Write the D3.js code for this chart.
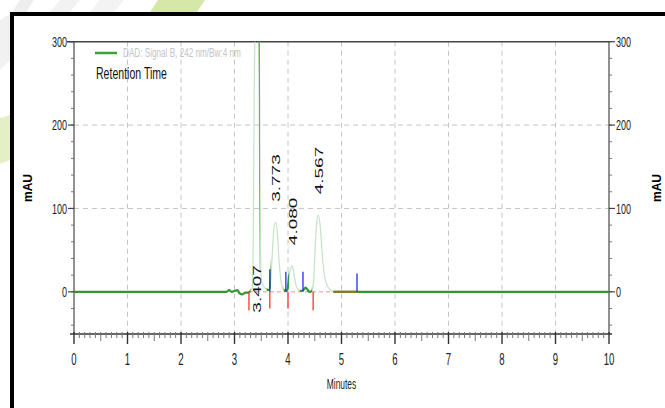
<!DOCTYPE html>
<html>
<head>
<meta charset="utf-8">
<script src="https://cdn.jsdelivr.net/npm/d3@7"></script>
<style>
  body { margin: 0; background: #fff; }
  svg { display: block; font-family: "Liberation Sans", Arial, sans-serif; }
</style>
</head>
<body>
<svg id="chart" width="665" height="408"></svg>
<script>
// chromatogram trace (minutes, mAU)
var traceTime = [0, 2.85, 2.9, 2.95, 3.0, 3.05, 3.1, 3.15, 3.2, 3.25, 3.3, 3.33, 3.35, 3.37, 3.39, 3.407, 3.42, 3.45, 3.47, 3.48, 3.49, 3.51, 3.55, 3.6, 3.65,
  3.68, 3.71, 3.74, 3.773, 3.8, 3.83, 3.87, 3.91, 3.95, 3.99, 4.02, 4.05, 4.08, 4.11, 4.15, 4.2, 4.25, 4.3, 4.33, 4.37, 4.41, 4.45,
  4.48, 4.51, 4.54, 4.567, 4.6, 4.64, 4.68, 4.73, 4.8, 4.85, 4.9, 10];
var traceValue = [0, 0, 2, 0, 1, 2, -2, -3, -1, -1, 1, 5, 60, 250, 330, 360, 350, 330, 250, 120, 30, 12, 6, 3, 2,
  15, 50, 78, 83, 72, 40, 12, 3, 1, 3, 18, 28, 31, 22, 8, 2, 1, 3, 5, 2, 0, 1,
  14, 55, 85, 92, 80, 45, 20, 8, 2, 0, 0, 0];

var peakTimes = [3.407, 3.773, 4.080, 4.567];
var peakHeights = [360, 83, 31, 92];
var peakLabels = ["3.407", "3.773", "4.080", "4.567"];

// integration marks
var startMarks = [3.27, 3.66, 4.0, 4.47];     // red, below baseline
var startDepth = [-22, -20, -20, -22];
var endMarks = [3.66, 3.96, 4.28, 5.29];      // blue, above baseline
var endHeight = [27, 24, 24, 22];

// parts of the trace drawn as solid baseline
var solidRanges = [[0, 3.3], [3.45, 3.47], [3.6, 3.68], [3.92, 4.02], [4.22, 4.45], [4.85, 10]];
var baselineRange = [3.27, 4.85];
var skimRange = [4.85, 5.29];

var xTicks = [0, 1, 2, 3, 4, 5, 6, 7, 8, 9, 10];
var yTicks = [0, 100, 200, 300];
var legendText = "DAD: Signal B, 242 nm/Bw:4 nm";

var svg = d3.select("#chart");
var pL = 74, pR = 609, pT = 41.7, pB = 333.5;
var x = d3.scaleLinear().domain([0, 10]).range([pL, pR]);
var y = d3.scaleLinear().domain([-50, 300]).range([pB, pT]);

// background decoration
var deco = svg.append("g");
deco.append("polygon").attr("points", "158,0 205,0 197,12 150,12").attr("fill", "#d6e8a8");
deco.append("polygon").attr("points", "0,118 10,115 10,160 0,164").attr("fill", "#e4efc6");
deco.append("polygon").attr("points", "20,0 34,0 26,12 12,12").attr("fill", "#eeeeee");
deco.append("polygon").attr("points", "60,0 80,0 70,12 50,12").attr("fill", "#f2f2f2");
deco.append("polygon").attr("points", "100,0 124,0 114,12 90,12").attr("fill", "#f3f3f3");
deco.append("polygon").attr("points", "0,20 10,14 10,60 0,70").attr("fill", "#f1f1f1");

// frame
svg.append("rect").attr("x", 12).attr("y", 14).attr("width", 700).attr("height", 500)
  .attr("fill", "#fff").attr("stroke", "#000").attr("stroke-width", 4);

svg.append("clipPath").attr("id", "plot").append("rect")
  .attr("x", pL).attr("y", pT).attr("width", pR - pL).attr("height", pB - pT);

// grid
var grid = svg.append("g").attr("stroke", "#c4c4c4").attr("stroke-dasharray", "5,4");
grid.selectAll(".vg").data(xTicks.slice(1, -1)).join("line")
  .attr("x1", d => x(d)).attr("x2", d => x(d)).attr("y1", pT).attr("y2", pB);
grid.selectAll(".hg").data([100, 200]).join("line")
  .attr("x1", pL).attr("x2", pR).attr("y1", d => y(d)).attr("y2", d => y(d));

// y axes
var minorY = d3.range(-40, 301, 20);
function yAxis(pos, dir) {
  var g = svg.append("g").attr("transform", "translate(" + pos + ",0)");
  g.append("line").attr("y1", pT).attr("y2", pB).attr("stroke", "#555").attr("stroke-width", 1.3);
  g.selectAll(".mi").data(minorY).join("line")
    .attr("x1", 0).attr("x2", dir * 3).attr("y1", d => y(d)).attr("y2", d => y(d))
    .attr("stroke", "#777");
  g.selectAll(".ma").data(yTicks).join("line")
    .attr("x1", 0).attr("x2", dir * 6).attr("y1", d => y(d)).attr("y2", d => y(d))
    .attr("stroke", "#444").attr("stroke-width", 1.2);
  g.selectAll("text").data(yTicks).join("text")
    .attr("transform", d => "translate(" + (dir * 7) + "," + y(d) + ") scale(0.6,1)")
    .attr("dy", "0.36em").attr("text-anchor", dir < 0 ? "end" : "start")
    .attr("font-size", 15).attr("fill", "#222").text(d => d);
}
yAxis(pL, -1);
yAxis(pR, 1);

// top line
svg.append("line").attr("x1", 67).attr("x2", pR).attr("y1", pT).attr("y2", pT)
  .attr("stroke", "#444").attr("stroke-width", 1.5);

// x axis
var xg = svg.append("g");
xg.append("line").attr("x1", 70).attr("x2", 612).attr("y1", 334).attr("y2", 334)
  .attr("stroke", "#666").attr("stroke-width", 2);
var minorX = d3.range(0, 101).map(d => d / 10);
xg.selectAll(".mx").data(minorX).join("line")
  .attr("x1", d => x(d)).attr("x2", d => x(d))
  .attr("y1", 332)
  .attr("y2", (d, i) => i % 10 === 0 ? 344 : (i % 5 === 0 ? 341 : 338))
  .attr("stroke", (d, i) => i % 10 === 0 ? "#333" : "#777")
  .attr("stroke-width", (d, i) => i % 10 === 0 ? 1.4 : 1);
xg.selectAll("text").data(xTicks).join("text")
  .attr("transform", d => "translate(" + x(d) + ",365) scale(0.6,1)")
  .attr("text-anchor", "middle").attr("font-size", 16).attr("fill", "#222").text(d => d);
svg.append("text").attr("transform", "translate(" + x(5) + ",389) scale(0.6,1)")
  .attr("text-anchor", "middle").attr("font-size", 14).attr("fill", "#222").text("Minutes");

svg.append("text").attr("transform", "translate(32,188) rotate(-90)")
  .attr("text-anchor", "middle").attr("font-size", 12).attr("font-weight", "bold").text("mAU");
svg.append("text").attr("transform", "translate(661,188) rotate(-90)")
  .attr("text-anchor", "middle").attr("font-size", 12).attr("font-weight", "bold").text("mAU");

// trace
var pts = traceTime.map((t, i) => [t, traceValue[i]]);
var line = d3.line().x(d => x(d[0])).y(d => y(d[1])).curve(d3.curveMonotoneX);
var plot = svg.append("g").attr("clip-path", "url(#plot)");

plot.append("line").attr("x1", x(baselineRange[0])).attr("x2", x(baselineRange[1]))
  .attr("y1", y(0)).attr("y2", y(0)).attr("stroke", "#f6b4b4").attr("stroke-width", 1.5)
  .attr("stroke-dasharray", "4,3");

plot.append("path").attr("d", line(pts)).attr("fill", "none")
  .attr("stroke", "#c6e2c6").attr("stroke-width", 1.2);

var solidClip = svg.append("clipPath").attr("id", "solid");
solidClip.selectAll("rect").data(solidRanges).join("rect")
  .attr("x", d => x(d[0])).attr("width", d => x(d[1]) - x(d[0]))
  .attr("y", pT).attr("height", pB - pT);
plot.append("g").attr("clip-path", "url(#solid)").append("path").attr("d", line(pts))
  .attr("fill", "none").attr("stroke", "#2f992f").attr("stroke-width", 2.2);

plot.append("line").attr("x1", x(skimRange[0])).attr("x2", x(skimRange[1]))
  .attr("y1", y(0)).attr("y2", y(0)).attr("stroke", "#8c7a1e").attr("stroke-width", 2.2);

plot.selectAll(".em").data(endMarks).join("line")
  .attr("x1", d => x(d)).attr("x2", d => x(d))
  .attr("y1", y(0)).attr("y2", (d, i) => y(endHeight[i]))
  .attr("stroke", "#1f2cff").attr("stroke-width", 1.3);
plot.selectAll(".sm").data(startMarks).join("line")
  .attr("x1", d => x(d)).attr("x2", d => x(d))
  .attr("y1", y(0)).attr("y2", (d, i) => y(startDepth[i]))
  .attr("stroke", "#ff3333").attr("stroke-width", 1.3);

// peak labels
svg.selectAll(".pl").data(peakTimes).join("text")
  .attr("transform", (d, i) => {
    var v = peakHeights[i] > 300 ? -25 : peakHeights[i] + 25;
    return "translate(" + x(d) + "," + y(v) + ") rotate(-90) scale(1,0.62)";
  })
  .attr("dy", "0.36em").attr("font-size", 19).attr("fill", "#111")
  .text((d, i) => peakLabels[i]);

// legend
svg.append("line").attr("x1", 95).attr("x2", 117).attr("y1", 53).attr("y2", 53)
  .attr("stroke", "#3aa43a").attr("stroke-width", 2.5);
svg.append("text").attr("transform", "translate(123,57) scale(0.68,1)")
  .attr("font-size", 12).attr("fill", "#c4c4c4").text(legendText);
svg.append("text").attr("transform", "translate(96,79) scale(0.66,1)")
  .attr("font-size", 16).attr("fill", "#111").text("Retention Time");
</script>
</body>
</html>
